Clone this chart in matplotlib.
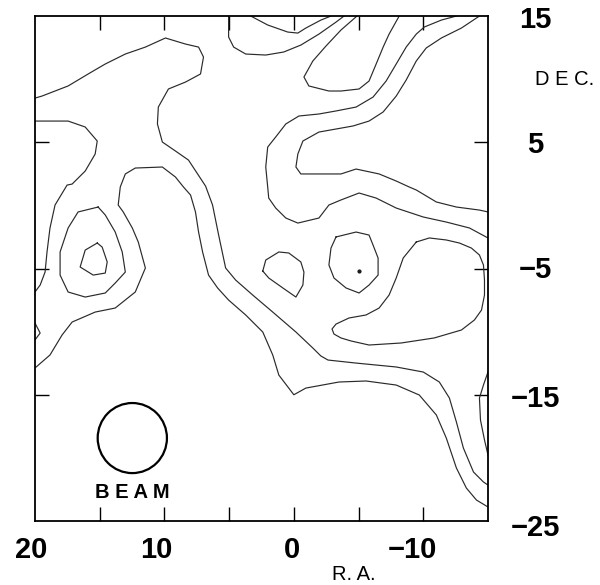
import matplotlib
matplotlib.use("Agg")
import matplotlib.pyplot as plt
from matplotlib.patches import Ellipse
from matplotlib.transforms import blended_transform_factory

plt.rcParams['font.family'] = ['Liberation Sans', 'DejaVu Sans']

# contour traces (R.A., DEC.)
c1_ra = [20.0, 19.46, 17.44, 15.89, 14.57, 13.02, 11.47, 9.92, 8.37, 7.36, 6.98, 7.21, 8.37, 9.69, 10.47,
         10.54, 10.16, 9.15, 8.14, 6.82, 6.28, 5.81, 5.27, 4.5, 3.18, 1.63, -0.16, -1.47, -2.09, -2.64,
         -4.81, -7.91, -10.0, -11.24, -12.02, -12.56, -13.1, -13.88, -14.65, -15.0]
c1_dec = [8.5, 8.66, 9.46, 10.41, 11.2, 11.99, 12.54, 13.26, 12.78, 12.54, 11.75, 10.41, 9.77, 9.22, 7.79,
          6.45, 5.02, 4.31, 3.59, 1.53, 0.03, -2.35, -4.96, -5.91, -7.1, -8.45, -10.03, -11.3, -11.93, -12.25,
          -12.49, -12.8, -13.2, -13.99, -15.26, -17.16, -19.22, -21.12, -21.91, -22.15]

c2_ra = [20.0, 18.84, 17.91, 17.13, 15.35, 13.8, 12.25, 11.47, 12.02, 12.48, 13.18, 13.57, 13.41, 13.02,
         12.25, 10.16, 9.15, 8.53, 7.98, 7.6, 7.36, 7.05, 6.59, 5.89, 5.04, 3.72, 2.4, 1.63, 1.16, 0.0,
         -0.93, -3.49, -5.58, -7.91, -9.69, -11.01, -11.78, -12.56, -13.33, -14.11, -15.0]
c2_dec = [-12.88, -11.85, -10.27, -9.24, -8.45, -8.13, -6.86, -4.96, -2.9, -1.79, -0.52, 0.03, 1.46, 2.49,
          2.96, 3.04, 2.25, 1.46, 0.82, -0.52, -2.11, -3.69, -5.52, -6.54, -7.5, -8.68, -10.03, -11.85,
          -13.44, -15.0, -14.47, -13.99, -13.91, -14.23, -15.02, -16.6, -18.43, -20.8, -22.39, -23.34, -23.89]

c3_ra = [20.0, 17.44, 16.12, 15.19, 15.35, 16.12, 17.13, 17.52, 18.45, 18.84, 19.07, 19.22, 19.6, 20.0]
c3_dec = [6.68, 6.68, 6.21, 5.1, 4.07, 2.72, 1.69, 1.61, 0.03, -1.79, -3.69, -5.28, -6.31, -6.86]

c3b_ra = [20.0, 19.6, 20.0]
c3b_dec = [-9.32, -10.11, -10.66]

c4_ra = [15.12, 16.67, 17.44, 18.06, 18.06, 17.44, 16.12, 14.57, 13.8, 13.02, 13.26, 13.8, 14.57, 15.12]
c4_dec = [-0.13, -0.52, -1.79, -3.69, -5.52, -6.86, -7.26, -6.94, -6.15, -5.28, -3.69, -2.11, -0.76, -0.13]

c5_ra = [15.19, 16.12, 16.51, 15.5, 14.57, 14.42, 14.81, 15.19]
c5_dec = [-2.98, -3.54, -4.88, -5.52, -5.36, -4.48, -3.3, -2.98]

c6_ra = [3.33, 2.02, 0.47, -0.31, -0.93, -2.09, -2.87]
c6_dec = [15.0, 14.29, 13.73, 13.65, 14.05, 14.68, 15.0]

c7_ra = [-4.88, -3.64, -2.48, -1.47, -0.78, -1.16, -2.71, -3.64, -5.04, -5.81, -6.36, -6.9, -7.36, -8.14]
c7_dec = [15.0, 13.89, 12.62, 11.44, 10.17, 9.46, 9.06, 9.06, 9.22, 9.85, 11.2, 12.54, 13.57, 15.0]

c8_ra = [5.04, 5.04, 4.65, 3.72, 2.17, 0.78, -0.54, -1.94, -3.26, -3.88]
c8_dec = [15.0, 13.34, 12.54, 11.99, 11.91, 12.15, 12.7, 13.57, 14.52, 15.0]

c9_ra = [-12.56, -11.4, -10.08, -9.46, -8.68, -7.91, -7.13, -6.12, -4.81, -3.26, -1.94, -0.39, 0.62, 1.4,
         2.02, 2.17, 2.02, 1.94, 1.4, 0.62, -0.31, -1.94, -2.71, -3.64, -5.04, -6.36, -7.91, -10.0, -11.78,
         -13.57, -15.0]
c9_dec = [15.0, 14.68, 14.13, 13.57, 12.54, 11.2, 9.85, 8.58, 7.79, 7.48, 7.24, 7.08, 6.45, 5.42,
          4.62, 3.04, 1.46, 0.58, -0.21, -1.0, -1.4, -1.0, 0.03, 0.43, 0.98, 0.58, -0.21, -0.92, -1.32,
          -1.79, -2.58]

c10_ra = [-14.34, -12.95, -11.4, -10.23, -9.46, -8.68, -7.91, -6.9, -5.81, -4.57, -3.26, -1.94, -0.7,
          -0.31, -0.16, -0.54, -1.94, -3.64, -4.81, -6.59, -7.91, -8.91, -9.46, -11.01, -12.56, -14.34, -15.0]
c10_dec = [15.0, 14.05, 13.26, 12.47, 11.44, 9.93, 8.66, 7.4, 6.68, 6.29, 6.05, 5.81, 5.1,
           4.07, 3.04, 2.49, 2.49, 2.49, 2.88, 2.49, 1.93, 1.46, 1.22, 0.27, -0.13, -0.37, -0.52]

c11_ra = [2.4, 2.17, 1.16, 0.39, -0.54, -0.78, -0.7, -0.16, 0.85, 1.94, 2.4]
c11_dec = [-5.2, -4.33, -3.69, -3.77, -4.48, -5.28, -6.31, -7.26, -6.54, -5.75, -5.2]

c12_ra = [-3.26, -4.81, -5.81, -6.12, -6.51, -6.51, -5.81, -5.04, -4.03, -3.1, -2.71, -2.87, -3.26]
c12_dec = [-2.5, -2.11, -2.35, -3.14, -4.17, -5.52, -6.31, -6.94, -6.54, -5.75, -4.72, -3.38, -2.5]

c13_ra = [-9.46, -10.47, -11.78, -12.79, -13.72, -14.34, -14.65, -14.73, -14.73, -14.5, -13.95, -12.95,
          -10.85, -8.29, -5.81, -4.42, -3.64, -3.1, -2.95, -3.26, -4.26, -5.58, -6.59, -7.36, -7.91, -8.45, -9.46]
c13_dec = [-2.9, -2.58, -2.74, -2.98, -3.38, -3.93, -4.72, -5.91, -7.1, -8.29, -9.08, -9.87,
           -10.5, -10.9, -11.06, -10.74, -10.5, -10.19, -9.79, -9.4, -8.92, -8.68, -8.13, -7.1, -5.75, -4.17, -2.9]

c14_ra = [-15.0, -14.65, -14.34, -14.42, -14.73, -15.0]
c14_dec = [-13.2, -14.23, -15.26, -17.0, -18.58, -19.77]

peak_ra = [-5.04]
peak_dec = [-5.2]

beam_ra = 12.48
beam_dec = -18.43
beam_w = 5.35   # R.A. extent
beam_h = 5.55   # DEC. extent

xlabels = ['20', '10', '0', '\u221210']
xlabel_pos = [20.3, 10.6, 0.15, -9.2]
ylabels = ['15', '5', '\u22125', '\u221215', '\u221225']
ylabel_pos = [14.7, 4.75, -5.1, -15.3, -25.55]

contours = [(c1_ra, c1_dec), (c2_ra, c2_dec), (c3_ra, c3_dec), (c3b_ra, c3b_dec), (c4_ra, c4_dec),
            (c5_ra, c5_dec), (c6_ra, c6_dec), (c7_ra, c7_dec), (c8_ra, c8_dec), (c9_ra, c9_dec),
            (c10_ra, c10_dec), (c11_ra, c11_dec), (c12_ra, c12_dec), (c13_ra, c13_dec), (c14_ra, c14_dec)]

fig = plt.figure(figsize=(6.0, 5.85), dpi=100)
ax = fig.add_axes([0.0583, 0.1094, 0.755, 0.8632])

for ra, dec in contours:
    ax.plot(ra, dec, color='#2a2a2a', lw=0.85, solid_joinstyle='round')
ax.plot(peak_ra, peak_dec, 'o', color='#1a1a1a', ms=2)

ax.add_patch(Ellipse((beam_ra, beam_dec), beam_w, beam_h, fill=False, ec='black', lw=1.6))
ax.text(beam_ra, beam_dec - 4.3, 'B E A M', ha='center', va='center', fontsize=14.5,
        fontweight='bold')

ax.set_xlim(20, -15)
ax.set_ylim(-25, 15)

ax.set_xticks([15, 10, 5, 0, -5, -10])
ax.set_yticks([5, -5, -15])
ax.tick_params(axis='both', direction='in', length=10, width=1.0,
               top=True, right=True, labelbottom=False, labelleft=False)
for sp in ax.spines.values():
    sp.set_linewidth(1.3)

tx = blended_transform_factory(ax.transData, ax.transAxes)
for lab, pos in zip(xlabels, xlabel_pos):
    ax.text(pos, -0.058, lab, transform=tx, ha='center', va='center', fontsize=21, fontweight='bold')
ax.text(-4.6, -0.105, 'R. A.', transform=tx, ha='center', va='center', fontsize=14.5)

ty = blended_transform_factory(ax.transAxes, ax.transData)
for lab, pos in zip(ylabels, ylabel_pos):
    ax.text(1.105, pos, lab, transform=ty, ha='center', va='center', fontsize=21, fontweight='bold')
ax.text(1.17, 10.0, 'D E C.', transform=ty, ha='center', va='center', fontsize=14.5)

fig.savefig('out.png', dpi=100)
